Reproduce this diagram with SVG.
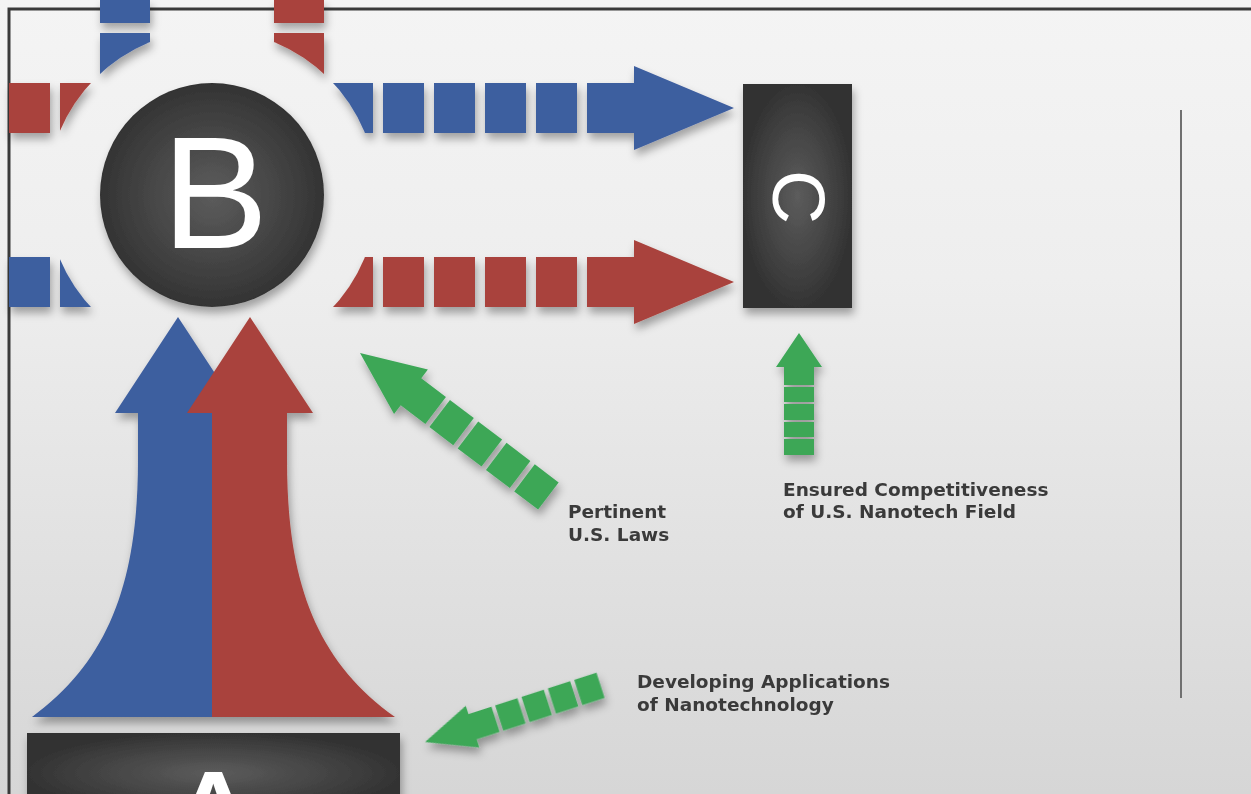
<svg xmlns="http://www.w3.org/2000/svg" xmlns:xlink="http://www.w3.org/1999/xlink" width="1251" height="794" viewBox="0 0 1251 794">
<style>
.blue{fill:#3e5e9f}
.red{fill:#a9423c}
.green{fill:#3ca757}
.lbl{font-family:"DejaVu Sans",Verdana,sans-serif;font-weight:bold;font-size:18.5px;fill:#3a3a3a}
.big{font-family:"Liberation Sans",Arial,sans-serif;fill:#ffffff}
</style>
<defs>
<linearGradient id="bg" x1="0" y1="0" x2="0" y2="1">
<stop offset="0" stop-color="#f4f4f4"/>
<stop offset="0.35" stop-color="#eeeeee"/>
<stop offset="1" stop-color="#d6d6d6"/>
</linearGradient>
<radialGradient id="dark" cx="0.5" cy="0.5" r="0.5">
<stop offset="0" stop-color="#5c5c5c"/>
<stop offset="0.75" stop-color="#3e3e3e"/>
<stop offset="1" stop-color="#333333"/>
</radialGradient>
<filter id="sh" x="-20%" y="-20%" width="140%" height="150%">
<feDropShadow dx="2" dy="6" stdDeviation="4" flood-color="#000" flood-opacity="0.33"/>
</filter>
<mask id="halo" maskUnits="userSpaceOnUse" x="0" y="0" width="1251" height="794">
<rect x="0" y="0" width="1251" height="794" fill="#fff"/>
<circle cx="212" cy="195" r="165" fill="#000"/>
</mask>
<g id="garrow">
<path d="M0,0 L-64,-28 L-64,-17 L-95,-17 L-95,17 L-64,17 L-64,28 Z"/>
<rect x="-130" y="-17" width="30" height="34"/>
<rect x="-165.5" y="-17" width="30" height="34"/>
<rect x="-201" y="-17" width="30" height="34"/>
<rect x="-236.5" y="-17" width="30" height="34"/>
</g>
</defs>

<rect x="0" y="0" width="1251" height="794" fill="url(#bg)"/>
<path d="M9,794 L9,9 L1251,9" fill="none" stroke="#3a3a3a" stroke-width="3"/>
<line x1="1181" y1="110" x2="1181" y2="698" stroke="#707070" stroke-width="2"/>

<g id="connectors">
<g filter="url(#sh)">
<g mask="url(#halo)">
<g class="red">
<rect x="9" y="83" width="41" height="50"/>
<rect x="60" y="83" width="41" height="50"/>
<rect x="274" y="-18" width="50" height="41"/>
<rect x="274" y="33" width="50" height="41"/>
<rect x="332" y="257" width="41" height="50"/>
<rect x="383" y="257" width="41" height="50"/>
<rect x="434" y="257" width="41" height="50"/>
<rect x="485" y="257" width="41" height="50"/>
<rect x="536" y="257" width="41" height="50"/>
<path d="M587,257 L634,257 L634,240 L734,282 L634,324 L634,307 L587,307 Z"/>
</g>
<g class="blue">
<rect x="9" y="257" width="41" height="50"/>
<rect x="60" y="257" width="41" height="50"/>
<rect x="100" y="-18" width="50" height="41"/>
<rect x="100" y="33" width="50" height="41"/>
<rect x="332" y="83" width="41" height="50"/>
<rect x="383" y="83" width="41" height="50"/>
<rect x="434" y="83" width="41" height="50"/>
<rect x="485" y="83" width="41" height="50"/>
<rect x="536" y="83" width="41" height="50"/>
<path d="M587,83 L634,83 L634,66 L734,108 L634,150 L634,133 L587,133 Z"/>
</g>
</g>
</g>
<g filter="url(#sh)">
<path class="blue" d="M178,317 L241,413 L216,413 L216,717 L32,717 C110,660 138,580 138,460 L138,413 L115,413 Z"/>
<path class="red" d="M250,317 L313,413 L287,413 L287,460 C287,580 315,660 395,717 L212,717 L212,413 L187,413 Z"/>
</g>
<g class="green" filter="url(#sh)">
<use xlink:href="#garrow" href="#garrow" transform="translate(360,353) rotate(217.2)"/>
<use xlink:href="#garrow" href="#garrow" transform="translate(425,742) rotate(162.1) scale(0.78)"/>
<path d="M799,333 L822,367 L814,367 L814,385 L784,385 L784,367 L776,367 Z"/>
<rect x="784" y="387" width="30" height="15"/>
<rect x="784" y="404" width="30" height="16"/>
<rect x="784" y="422" width="30" height="15"/>
<rect x="784" y="439" width="30" height="16"/>
</g>
</g>

<g id="nodeB">
<circle cx="212" cy="195" r="112" fill="url(#dark)" filter="url(#sh)"/>
<text class="big" x="215" y="248" font-size="160" text-anchor="middle">B</text>
</g>
<g id="nodeC">
<rect x="743" y="84" width="109" height="224" fill="url(#dark)" filter="url(#sh)"/>
<text class="big" x="0" y="0" font-size="75" text-anchor="middle" transform="translate(773,197) rotate(90)">C</text>
</g>
<g id="nodeA">
<rect x="27" y="733" width="373" height="80" fill="url(#dark)" filter="url(#sh)"/>
<text class="big" x="213" y="882" font-size="160" text-anchor="middle">A</text>
</g>

<g id="labels">
<text class="lbl" x="568" y="518">Pertinent</text>
<text class="lbl" x="568" y="541">U.S. Laws</text>
<text class="lbl" x="783" y="496">Ensured Competitiveness</text>
<text class="lbl" x="783" y="518">of U.S. Nanotech Field</text>
<text class="lbl" x="637" y="688">Developing Applications</text>
<text class="lbl" x="637" y="711">of Nanotechnology</text>
</g>
</svg>
